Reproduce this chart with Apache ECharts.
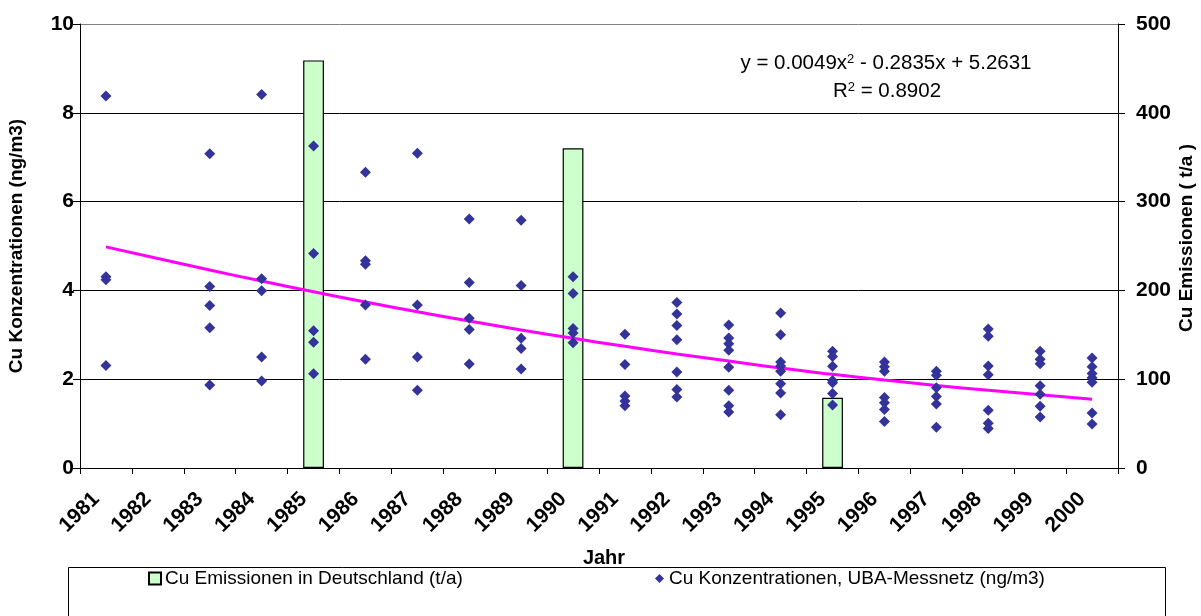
<!DOCTYPE html>
<html><head><meta charset="utf-8">
<script src="https://cdn.jsdelivr.net/npm/echarts@6/dist/echarts.min.js"></script>
<style>html,body{margin:0;padding:0;background:#fff}#c{width:1201px;height:616px}</style>
</head><body><div id="c"></div>
<script>
const years = ['1981','1982','1983','1984','1985','1986','1987','1988','1989','1990',
               '1991','1992','1993','1994','1995','1996','1997','1998','1999','2000'];
// Cu emissions in Germany (t/a), right axis
const emissions = [null,null,null,null,459,null,null,null,null,360,
                   null,null,null,null,79,null,null,null,null,null];
// Polynomial trend line values (as shown in the chart) per year
const trend = [4.98,4.72,4.46,4.21,3.97,3.74,3.52,3.31,3.11,2.92,
               2.74,2.57,2.41,2.25,2.11,1.98,1.86,1.75,1.65,1.55];
// Cu concentrations (ng/m3), UBA network, per year
const conc1981 = [8.38, 4.31, 4.24, 2.31];
const conc1982 = [];
const conc1983 = [7.08, 4.09, 3.66, 3.16, 1.87];
const conc1984 = [8.41, 4.26, 3.99, 2.50, 1.96];
const conc1985 = [7.25, 4.83, 3.09, 2.83, 2.12];
const conc1986 = [6.66, 4.67, 4.59, 3.67, 2.45];
const conc1987 = [7.09, 3.67, 2.50, 1.75];
const conc1988 = [5.61, 4.18, 3.37, 3.12, 2.34];
const conc1989 = [5.58, 4.11, 2.92, 2.69, 2.23];
const conc1990 = [4.31, 3.93, 3.14, 3.04, 2.82];
const conc1991 = [3.01, 2.33, 1.62, 1.51, 1.40];
const conc1992 = [3.73, 3.47, 3.21, 2.89, 2.16, 1.77, 1.60];
const conc1993 = [3.22, 2.93, 2.80, 2.65, 2.27, 1.75, 1.40, 1.26];
const conc1994 = [3.49, 3.00, 2.39, 2.30, 2.18, 1.90, 1.69, 1.20];
const conc1995 = [2.63, 2.51, 2.29, 1.97, 1.92, 1.68, 1.42];
const conc1996 = [2.39, 2.28, 2.18, 1.59, 1.47, 1.32, 1.05];
const conc1997 = [2.18, 2.09, 1.81, 1.61, 1.44, 0.92];
const conc1998 = [3.13, 2.97, 2.30, 2.10, 1.30, 1.01, 0.89];
const conc1999 = [2.63, 2.45, 2.35, 1.85, 1.66, 1.39, 1.15];
const conc2000 = [2.48, 2.28, 2.13, 2.03, 1.93, 1.24, 0.99];
const concByYear = [conc1981,conc1982,conc1983,conc1984,conc1985,conc1986,conc1987,conc1988,conc1989,conc1990,
                    conc1991,conc1992,conc1993,conc1994,conc1995,conc1996,conc1997,conc1998,conc1999,conc2000];

const scatterData = [];
concByYear.forEach((vals, i) => vals.forEach(v => scatterData.push([years[i], v])));

const FONT = "'Liberation Sans', Arial, sans-serif";
const chart = echarts.init(document.getElementById('c'), null, {renderer: 'canvas'});
chart.setOption({
  animation: false,
  backgroundColor: '#fff',
  textStyle: {fontFamily: FONT},
  grid: {left: 80, right: 83, top: 24, bottom: 148, containLabel: false, outerBoundsMode: 'none'},
  xAxis: {
    type: 'category', data: years, boundaryGap: true,
    name: 'Jahr', nameLocation: 'middle', nameGap: 80,
    nameTextStyle: {fontSize: 20, fontWeight: 'bold', color: '#000', fontFamily: FONT, padding: [0,0,0,10]},
    axisLine: {lineStyle: {color: '#000', width: 1}},
    axisTick: {show: true, interval: 0, length: 6, lineStyle: {color: '#000'}},
    axisLabel: {interval: 0, rotate: 45, margin: 18, fontSize: 21, fontWeight: 'bold', color: '#000',
                fontFamily: FONT, padding: [0, 14, 0, 0]},
    splitLine: {show: false}
  },
  yAxis: [{
    type: 'value', min: 0, max: 10, interval: 2, position: 'left',
    name: 'Cu Konzentrationen (ng/m3)', nameLocation: 'middle', nameGap: 54, nameRotate: 90,
    nameTextStyle: {fontSize: 19, fontWeight: 'bold', color: '#000', fontFamily: FONT},
    axisLine: {show: true, lineStyle: {color: '#000'}},
    axisTick: {show: true, length: 7, lineStyle: {color: '#000'}},
    axisLabel: {margin: 6, fontSize: 21, fontWeight: 'bold', color: '#000', fontFamily: FONT},
    splitLine: {show: true, lineStyle: {color: ['#000','#000','#000','#000','#000','#808080'], width: 1}}
  }, {
    type: 'value', min: 0, max: 500, interval: 100, position: 'right',
    axisLine: {show: true, lineStyle: {color: '#000'}},
    axisTick: {show: true, length: 7, lineStyle: {color: '#000'}},
    axisLabel: {margin: 18, fontSize: 21, fontWeight: 'bold', color: '#000', fontFamily: FONT},
    splitLine: {show: false}
  }],
  legend: [{
    data: ['Cu Emissionen in Deutschland (t/a)'],
    left: 148, top: 569, padding: 0,
    icon: 'rect', itemWidth: 12, itemHeight: 12, itemGap: 4,
    textStyle: {fontSize: 19, color: '#000', fontFamily: FONT, padding: [0,0,0,-1]}
  }, {
    data: ['Cu Konzentrationen, UBA-Messnetz (ng/m3)'],
    left: 655, top: 569, padding: 0,
    icon: 'diamond', itemWidth: 9, itemHeight: 9, itemGap: 4,
    textStyle: {fontSize: 19, color: '#000', fontFamily: FONT}
  }],
  graphic: [{
    type: 'rect', shape: {x: 68.5, y: 567.5, width: 1097, height: 70},
    style: {fill: 'none', stroke: '#000', lineWidth: 1}, silent: true
  }, {
    type: 'text', x: 1187, y: 238, rotation: Math.PI / 2,
    style: {
      text: 'Cu Emissionen ( t/a )', align: 'center', verticalAlign: 'middle',
      fontSize: 19, fontWeight: 'bold', fontFamily: FONT, fill: '#000'
    }
  }, {
    type: 'text', x: 886, y: 63,
    style: {
      text: '{a|y = 0.0049x}{s|2}{a| - 0.2835x + 5.2631}',
      align: 'center', verticalAlign: 'middle',
      rich: {
        a: {fontSize: 20.5, fontFamily: FONT, fill: '#000', color: '#000'},
        s: {fontSize: 13, fontFamily: FONT, fill: '#000', color: '#000', verticalAlign: 'top'}
      }
    }
  }, {
    type: 'text', x: 887, y: 91,
    style: {
      text: '{a|R}{s|2}{a| = 0.8902}',
      align: 'center', verticalAlign: 'middle',
      rich: {
        a: {fontSize: 20.5, fontFamily: FONT, fill: '#000', color: '#000'},
        s: {fontSize: 13, fontFamily: FONT, fill: '#000', color: '#000', verticalAlign: 'top'}
      }
    }
  }],
  series: [{
    name: 'Cu Emissionen in Deutschland (t/a)', type: 'bar', yAxisIndex: 1,
    data: emissions, barWidth: '40%',
    itemStyle: {color: '#CCFFCC', borderColor: '#000', borderWidth: 1.2}, z: 2
  }, {
    name: 'Trend', type: 'line', yAxisIndex: 0, data: trend, smooth: true,
    symbol: 'none', lineStyle: {color: '#FF00FF', width: 3}, z: 3
  }, {
    name: 'Cu Konzentrationen, UBA-Messnetz (ng/m3)', type: 'scatter', yAxisIndex: 0,
    data: scatterData, symbol: 'diamond', symbolSize: [11, 11],
    itemStyle: {color: '#333399', opacity: 1}, z: 4
  }]
});
</script>
</body></html>
